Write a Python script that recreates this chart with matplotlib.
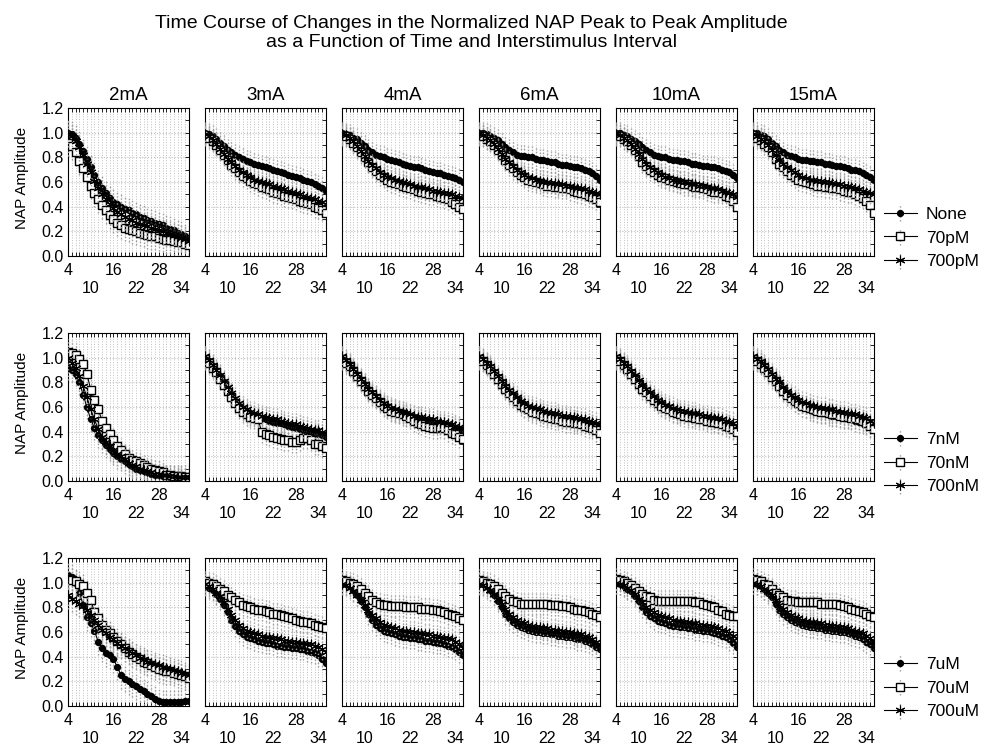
import numpy as np
import matplotlib
matplotlib.use("Agg")
import matplotlib.pyplot as plt
from matplotlib.ticker import MultipleLocator, FixedLocator, NullFormatter

plt.rcParams['font.family'] = ['Liberation Sans', 'DejaVu Sans']

TITLE = ("Time Course of Changes in the Normalized NAP Peak to Peak Amplitude\n"
         "as a Function of Time and Interstimulus Interval")
CURRENTS = ["2mA", "3mA", "4mA", "6mA", "10mA", "15mA"]
X_START = 4
X_TICKS = [4, 10, 16, 22, 28, 34]
X_TICK_LABELS = ["4", "\n10", "16", "\n22", "28", "\n34"]
Y_TICKS = [0.0, 0.2, 0.4, 0.6, 0.8, 1.0, 1.2]

# ---- row 1: None / 70pM / 700pM ----
LABELS_R1 = ["None", "70pM", "700pM"]
NONE = [
    [1.00, 0.99, 0.96, 0.91, 0.85, 0.79, 0.72, 0.66, 0.60, 0.55, 0.51, 0.47, 0.44, 0.42, 0.40, 0.38, 0.37, 0.35, 0.34, 0.32, 0.31, 0.29, 0.28, 0.27, 0.26, 0.25, 0.23, 0.22, 0.21, 0.19, 0.18, 0.16, 0.15],
    [1.00, 0.99, 0.97, 0.95, 0.92, 0.89, 0.86, 0.84, 0.82, 0.80, 0.79, 0.77, 0.76, 0.75, 0.74, 0.73, 0.72, 0.71, 0.70, 0.69, 0.68, 0.67, 0.66, 0.65, 0.64, 0.63, 0.62, 0.61, 0.60, 0.58, 0.57, 0.55, 0.53],
    [1.00, 0.99, 0.98, 0.96, 0.95, 0.92, 0.89, 0.86, 0.84, 0.82, 0.81, 0.80, 0.79, 0.78, 0.77, 0.76, 0.75, 0.74, 0.73, 0.72, 0.72, 0.71, 0.70, 0.69, 0.68, 0.67, 0.67, 0.66, 0.65, 0.64, 0.63, 0.62, 0.60],
    [1.00, 1.00, 0.99, 0.97, 0.96, 0.94, 0.91, 0.88, 0.86, 0.84, 0.82, 0.81, 0.81, 0.80, 0.80, 0.79, 0.78, 0.78, 0.77, 0.76, 0.76, 0.75, 0.74, 0.74, 0.73, 0.72, 0.72, 0.71, 0.70, 0.69, 0.67, 0.65, 0.62],
    [1.00, 1.00, 0.98, 0.97, 0.95, 0.93, 0.91, 0.88, 0.86, 0.84, 0.82, 0.81, 0.80, 0.80, 0.79, 0.78, 0.78, 0.77, 0.77, 0.76, 0.75, 0.75, 0.74, 0.73, 0.73, 0.72, 0.72, 0.71, 0.70, 0.69, 0.68, 0.66, 0.63],
    [1.00, 1.00, 0.98, 0.97, 0.95, 0.92, 0.89, 0.86, 0.84, 0.82, 0.81, 0.80, 0.79, 0.78, 0.78, 0.77, 0.77, 0.76, 0.76, 0.75, 0.75, 0.74, 0.73, 0.73, 0.72, 0.71, 0.70, 0.70, 0.69, 0.67, 0.66, 0.64, 0.62],
]
PM70 = [
    [0.92, 0.89, 0.84, 0.77, 0.71, 0.64, 0.57, 0.51, 0.46, 0.41, 0.37, 0.33, 0.30, 0.27, 0.25, 0.23, 0.22, 0.21, 0.20, 0.19, 0.18, 0.17, 0.16, 0.16, 0.15, 0.14, 0.13, 0.13, 0.12, 0.11, 0.11, 0.10, 0.09],
    [0.98, 0.96, 0.93, 0.90, 0.86, 0.82, 0.78, 0.74, 0.71, 0.68, 0.65, 0.63, 0.61, 0.59, 0.58, 0.56, 0.55, 0.54, 0.52, 0.51, 0.50, 0.49, 0.48, 0.47, 0.46, 0.45, 0.44, 0.43, 0.42, 0.40, 0.39, 0.37, 0.35],
    [0.98, 0.97, 0.95, 0.92, 0.88, 0.84, 0.80, 0.76, 0.72, 0.69, 0.66, 0.64, 0.62, 0.60, 0.59, 0.58, 0.57, 0.56, 0.55, 0.54, 0.53, 0.52, 0.51, 0.50, 0.50, 0.49, 0.48, 0.47, 0.46, 0.44, 0.42, 0.40, 0.38],
    [0.98, 0.97, 0.95, 0.93, 0.90, 0.86, 0.82, 0.78, 0.74, 0.71, 0.68, 0.66, 0.64, 0.62, 0.61, 0.60, 0.59, 0.58, 0.57, 0.57, 0.56, 0.56, 0.55, 0.55, 0.54, 0.53, 0.52, 0.51, 0.50, 0.49, 0.48, 0.46, 0.44],
    [0.98, 0.97, 0.95, 0.93, 0.90, 0.86, 0.81, 0.76, 0.73, 0.70, 0.68, 0.66, 0.64, 0.63, 0.62, 0.61, 0.60, 0.59, 0.58, 0.58, 0.57, 0.56, 0.56, 0.55, 0.54, 0.53, 0.52, 0.52, 0.51, 0.49, 0.48, 0.45, 0.40],
    [0.98, 0.96, 0.94, 0.91, 0.88, 0.84, 0.79, 0.75, 0.72, 0.69, 0.66, 0.64, 0.62, 0.61, 0.60, 0.59, 0.58, 0.57, 0.57, 0.56, 0.56, 0.55, 0.55, 0.54, 0.53, 0.52, 0.52, 0.50, 0.49, 0.47, 0.45, 0.41, 0.35],
]
PM700 = [
    [0.99, 0.97, 0.93, 0.88, 0.82, 0.75, 0.68, 0.61, 0.55, 0.50, 0.46, 0.42, 0.39, 0.36, 0.34, 0.32, 0.30, 0.29, 0.27, 0.26, 0.25, 0.24, 0.23, 0.22, 0.21, 0.20, 0.19, 0.18, 0.17, 0.16, 0.15, 0.14, 0.12],
    [0.99, 0.97, 0.94, 0.91, 0.87, 0.83, 0.79, 0.76, 0.73, 0.70, 0.68, 0.66, 0.64, 0.62, 0.61, 0.60, 0.59, 0.58, 0.57, 0.56, 0.55, 0.54, 0.53, 0.52, 0.51, 0.50, 0.49, 0.48, 0.47, 0.46, 0.45, 0.44, 0.42],
    [0.99, 0.98, 0.96, 0.93, 0.89, 0.85, 0.81, 0.77, 0.74, 0.71, 0.68, 0.66, 0.64, 0.63, 0.62, 0.61, 0.60, 0.59, 0.58, 0.57, 0.56, 0.56, 0.55, 0.54, 0.53, 0.53, 0.52, 0.51, 0.51, 0.50, 0.49, 0.48, 0.47],
    [0.99, 0.98, 0.96, 0.94, 0.91, 0.87, 0.83, 0.79, 0.76, 0.73, 0.70, 0.68, 0.66, 0.64, 0.63, 0.62, 0.61, 0.60, 0.60, 0.59, 0.59, 0.58, 0.58, 0.57, 0.57, 0.56, 0.55, 0.55, 0.54, 0.53, 0.52, 0.51, 0.50],
    [0.99, 0.98, 0.96, 0.94, 0.91, 0.87, 0.83, 0.79, 0.75, 0.72, 0.70, 0.68, 0.66, 0.64, 0.63, 0.62, 0.61, 0.60, 0.60, 0.59, 0.58, 0.58, 0.57, 0.57, 0.56, 0.55, 0.55, 0.54, 0.53, 0.52, 0.51, 0.50, 0.48],
    [0.99, 0.97, 0.95, 0.93, 0.90, 0.86, 0.82, 0.78, 0.75, 0.72, 0.70, 0.68, 0.66, 0.64, 0.63, 0.62, 0.62, 0.61, 0.61, 0.60, 0.60, 0.59, 0.58, 0.58, 0.57, 0.57, 0.56, 0.55, 0.54, 0.53, 0.52, 0.51, 0.50],
]
ERR_R1 = [0.11, 0.09, 0.09, 0.09, 0.09, 0.09]

# ---- row 2: 7nM / 70nM / 700nM ----
LABELS_R2 = ["7nM", "70nM", "700nM"]
NM7 = [
    [0.92, 0.90, 0.87, 0.80, 0.70, 0.60, 0.50, 0.43, 0.37, 0.33, 0.29, 0.26, 0.23, 0.20, 0.18, 0.16, 0.14, 0.12, 0.10, 0.09, 0.08, 0.07, 0.06, 0.05, 0.05, 0.04, 0.04, 0.03, 0.03, 0.03, 0.02, 0.02, 0.02],
    [1.00, 0.97, 0.93, 0.89, 0.85, 0.80, 0.75, 0.70, 0.65, 0.61, 0.58, 0.56, 0.54, 0.53, 0.52, 0.51, 0.50, 0.49, 0.48, 0.47, 0.47, 0.46, 0.45, 0.44, 0.43, 0.42, 0.41, 0.41, 0.40, 0.39, 0.38, 0.37, 0.36],
    [1.00, 0.97, 0.94, 0.90, 0.86, 0.82, 0.78, 0.74, 0.71, 0.68, 0.65, 0.62, 0.60, 0.58, 0.57, 0.56, 0.55, 0.54, 0.53, 0.52, 0.51, 0.50, 0.49, 0.49, 0.48, 0.47, 0.46, 0.46, 0.45, 0.44, 0.43, 0.42, 0.40],
    [1.00, 0.98, 0.95, 0.92, 0.88, 0.84, 0.80, 0.76, 0.72, 0.69, 0.66, 0.63, 0.61, 0.59, 0.58, 0.57, 0.56, 0.55, 0.54, 0.53, 0.53, 0.52, 0.51, 0.51, 0.50, 0.49, 0.49, 0.48, 0.47, 0.46, 0.45, 0.44, 0.42],
    [1.00, 0.98, 0.95, 0.92, 0.88, 0.84, 0.80, 0.77, 0.73, 0.70, 0.67, 0.64, 0.62, 0.60, 0.59, 0.57, 0.56, 0.55, 0.55, 0.54, 0.53, 0.53, 0.52, 0.51, 0.50, 0.50, 0.49, 0.48, 0.47, 0.46, 0.45, 0.43, 0.40],
    [1.00, 0.98, 0.96, 0.93, 0.89, 0.85, 0.82, 0.78, 0.74, 0.71, 0.68, 0.65, 0.63, 0.61, 0.60, 0.58, 0.57, 0.56, 0.55, 0.55, 0.54, 0.53, 0.53, 0.52, 0.51, 0.51, 0.50, 0.49, 0.48, 0.47, 0.46, 0.44, 0.41],
]
NM70 = [
    [1.05, 1.04, 1.02, 0.99, 0.95, 0.87, 0.74, 0.66, 0.58, 0.49, 0.43, 0.38, 0.33, 0.28, 0.25, 0.22, 0.19, 0.17, 0.16, 0.15, 0.13, 0.11, 0.10, 0.09, 0.08, 0.07, 0.05, 0.05, 0.04, 0.04, 0.04, 0.03, 0.03],
    [0.99, 0.96, 0.92, 0.88, 0.83, 0.78, 0.73, 0.68, 0.63, 0.59, 0.56, 0.54, 0.52, 0.51, 0.50, 0.40, 0.38, 0.37, 0.36, 0.35, 0.34, 0.33, 0.33, 0.32, 0.32, 0.33, 0.35, 0.35, 0.33, 0.30, 0.30, 0.28, 0.27],
    [0.99, 0.96, 0.93, 0.89, 0.85, 0.81, 0.77, 0.73, 0.70, 0.67, 0.64, 0.61, 0.59, 0.57, 0.56, 0.55, 0.54, 0.53, 0.51, 0.49, 0.47, 0.46, 0.45, 0.44, 0.43, 0.43, 0.44, 0.43, 0.41, 0.39, 0.38, 0.36, 0.34],
    [0.99, 0.97, 0.94, 0.91, 0.87, 0.83, 0.79, 0.75, 0.71, 0.68, 0.65, 0.62, 0.60, 0.58, 0.56, 0.55, 0.54, 0.53, 0.52, 0.51, 0.50, 0.50, 0.49, 0.48, 0.48, 0.47, 0.47, 0.46, 0.45, 0.44, 0.43, 0.41, 0.39],
    [0.99, 0.97, 0.94, 0.91, 0.87, 0.83, 0.79, 0.75, 0.72, 0.69, 0.66, 0.63, 0.61, 0.59, 0.58, 0.56, 0.55, 0.54, 0.53, 0.52, 0.52, 0.51, 0.50, 0.50, 0.49, 0.48, 0.48, 0.47, 0.46, 0.45, 0.44, 0.42, 0.40],
    [0.99, 0.97, 0.95, 0.92, 0.88, 0.84, 0.81, 0.77, 0.73, 0.70, 0.67, 0.65, 0.63, 0.61, 0.60, 0.59, 0.58, 0.57, 0.56, 0.56, 0.55, 0.54, 0.54, 0.53, 0.52, 0.52, 0.51, 0.51, 0.50, 0.49, 0.47, 0.45, 0.42],
]
NM700 = [
    [1.00, 0.96, 0.92, 0.85, 0.77, 0.68, 0.58, 0.50, 0.42, 0.36, 0.32, 0.28, 0.25, 0.22, 0.20, 0.18, 0.15, 0.13, 0.12, 0.10, 0.09, 0.08, 0.07, 0.06, 0.06, 0.05, 0.05, 0.04, 0.04, 0.03, 0.03, 0.03, 0.03],
    [1.01, 0.98, 0.94, 0.90, 0.86, 0.81, 0.76, 0.71, 0.67, 0.63, 0.60, 0.58, 0.56, 0.55, 0.54, 0.53, 0.52, 0.51, 0.50, 0.50, 0.49, 0.48, 0.47, 0.46, 0.46, 0.45, 0.44, 0.43, 0.42, 0.41, 0.41, 0.40, 0.39],
    [1.01, 0.98, 0.95, 0.91, 0.87, 0.83, 0.79, 0.75, 0.72, 0.69, 0.66, 0.63, 0.61, 0.59, 0.58, 0.57, 0.56, 0.55, 0.54, 0.53, 0.52, 0.52, 0.51, 0.50, 0.50, 0.49, 0.48, 0.48, 0.47, 0.46, 0.45, 0.44, 0.43],
    [1.01, 0.99, 0.96, 0.93, 0.89, 0.85, 0.81, 0.77, 0.74, 0.71, 0.68, 0.65, 0.63, 0.61, 0.60, 0.59, 0.58, 0.57, 0.56, 0.55, 0.55, 0.54, 0.53, 0.53, 0.52, 0.52, 0.51, 0.50, 0.50, 0.49, 0.48, 0.47, 0.46],
    [1.01, 0.99, 0.96, 0.93, 0.89, 0.86, 0.82, 0.78, 0.75, 0.72, 0.69, 0.66, 0.64, 0.62, 0.61, 0.59, 0.58, 0.57, 0.57, 0.56, 0.55, 0.55, 0.54, 0.53, 0.53, 0.52, 0.51, 0.51, 0.50, 0.49, 0.48, 0.47, 0.45],
    [1.01, 0.99, 0.97, 0.94, 0.91, 0.87, 0.83, 0.80, 0.76, 0.73, 0.70, 0.68, 0.66, 0.64, 0.63, 0.62, 0.61, 0.60, 0.59, 0.59, 0.58, 0.58, 0.57, 0.56, 0.56, 0.55, 0.54, 0.54, 0.53, 0.52, 0.51, 0.49, 0.47],
]
ERR_R2 = [0.10, 0.09, 0.09, 0.09, 0.09, 0.09]

# ---- row 3: 7uM / 70uM / 700uM ----
LABELS_R3 = ["7uM", "70uM", "700uM"]
UM7 = [
    [1.06, 1.05, 1.00, 0.92, 0.82, 0.72, 0.67, 0.61, 0.52, 0.47, 0.43, 0.41, 0.38, 0.32, 0.25, 0.22, 0.20, 0.18, 0.16, 0.14, 0.12, 0.10, 0.08, 0.06, 0.04, 0.03, 0.03, 0.03, 0.03, 0.03, 0.03, 0.04, 0.04],
    [0.98, 0.96, 0.94, 0.91, 0.87, 0.82, 0.76, 0.70, 0.65, 0.61, 0.58, 0.56, 0.55, 0.54, 0.53, 0.52, 0.51, 0.51, 0.50, 0.49, 0.49, 0.48, 0.48, 0.47, 0.47, 0.46, 0.46, 0.45, 0.44, 0.43, 0.41, 0.38, 0.35],
    [1.00, 0.99, 0.97, 0.94, 0.90, 0.85, 0.80, 0.75, 0.70, 0.66, 0.63, 0.61, 0.60, 0.59, 0.58, 0.57, 0.56, 0.56, 0.55, 0.55, 0.54, 0.54, 0.53, 0.53, 0.52, 0.51, 0.51, 0.50, 0.49, 0.48, 0.46, 0.44, 0.41],
    [1.00, 0.99, 0.97, 0.94, 0.90, 0.85, 0.80, 0.75, 0.71, 0.68, 0.66, 0.64, 0.63, 0.62, 0.61, 0.60, 0.60, 0.59, 0.59, 0.58, 0.58, 0.57, 0.57, 0.56, 0.56, 0.55, 0.54, 0.54, 0.53, 0.52, 0.50, 0.48, 0.46],
    [1.00, 0.99, 0.97, 0.95, 0.93, 0.89, 0.85, 0.80, 0.76, 0.73, 0.71, 0.69, 0.68, 0.67, 0.66, 0.65, 0.65, 0.64, 0.64, 0.63, 0.63, 0.62, 0.62, 0.61, 0.61, 0.60, 0.59, 0.58, 0.57, 0.56, 0.54, 0.51, 0.48],
    [1.00, 0.99, 0.97, 0.95, 0.92, 0.88, 0.83, 0.78, 0.75, 0.72, 0.70, 0.68, 0.67, 0.66, 0.65, 0.64, 0.64, 0.63, 0.63, 0.62, 0.62, 0.61, 0.61, 0.60, 0.60, 0.59, 0.58, 0.57, 0.56, 0.54, 0.52, 0.50, 0.47],
]
UM70 = [
    [1.03, 1.02, 1.01, 0.99, 0.97, 0.92, 0.86, 0.76, 0.71, 0.66, 0.62, 0.59, 0.56, 0.53, 0.50, 0.47, 0.44, 0.42, 0.40, 0.38, 0.36, 0.35, 0.33, 0.32, 0.30, 0.29, 0.28, 0.28, 0.27, 0.26, 0.25, 0.24, 0.23],
    [1.01, 1.00, 0.99, 0.97, 0.95, 0.93, 0.90, 0.88, 0.86, 0.84, 0.82, 0.81, 0.80, 0.79, 0.78, 0.78, 0.77, 0.76, 0.75, 0.75, 0.74, 0.73, 0.72, 0.71, 0.70, 0.69, 0.68, 0.68, 0.67, 0.66, 0.65, 0.64, 0.63],
    [1.02, 1.01, 1.00, 0.99, 0.97, 0.95, 0.92, 0.89, 0.86, 0.84, 0.83, 0.82, 0.82, 0.81, 0.81, 0.81, 0.81, 0.80, 0.80, 0.80, 0.80, 0.79, 0.79, 0.79, 0.78, 0.78, 0.77, 0.76, 0.75, 0.74, 0.73, 0.71, 0.70],
    [1.02, 1.01, 1.00, 0.99, 0.97, 0.95, 0.92, 0.89, 0.87, 0.85, 0.84, 0.83, 0.83, 0.83, 0.83, 0.83, 0.83, 0.83, 0.83, 0.82, 0.82, 0.82, 0.81, 0.81, 0.80, 0.79, 0.78, 0.78, 0.77, 0.76, 0.75, 0.74, 0.72],
    [1.03, 1.02, 1.01, 1.00, 0.98, 0.96, 0.93, 0.91, 0.89, 0.88, 0.86, 0.85, 0.85, 0.85, 0.85, 0.85, 0.85, 0.85, 0.85, 0.85, 0.85, 0.84, 0.84, 0.83, 0.82, 0.81, 0.80, 0.78, 0.77, 0.75, 0.74, 0.73, 0.73],
    [1.03, 1.02, 1.01, 0.99, 0.98, 0.95, 0.92, 0.90, 0.88, 0.86, 0.85, 0.85, 0.84, 0.84, 0.84, 0.84, 0.84, 0.84, 0.83, 0.83, 0.83, 0.83, 0.83, 0.82, 0.81, 0.80, 0.79, 0.78, 0.77, 0.76, 0.75, 0.73, 0.72],
]
UM700 = [
    [0.90, 0.87, 0.85, 0.83, 0.81, 0.78, 0.74, 0.70, 0.66, 0.62, 0.59, 0.56, 0.54, 0.51, 0.49, 0.47, 0.45, 0.43, 0.41, 0.39, 0.38, 0.36, 0.35, 0.34, 0.33, 0.32, 0.31, 0.30, 0.29, 0.28, 0.27, 0.26, 0.25],
    [0.99, 0.97, 0.95, 0.92, 0.89, 0.84, 0.79, 0.74, 0.70, 0.66, 0.63, 0.61, 0.60, 0.59, 0.58, 0.57, 0.56, 0.56, 0.55, 0.55, 0.54, 0.53, 0.53, 0.52, 0.52, 0.51, 0.51, 0.50, 0.50, 0.49, 0.48, 0.46, 0.44],
    [0.99, 0.98, 0.96, 0.93, 0.90, 0.86, 0.82, 0.78, 0.74, 0.71, 0.68, 0.66, 0.65, 0.64, 0.63, 0.62, 0.61, 0.61, 0.60, 0.60, 0.59, 0.59, 0.58, 0.58, 0.57, 0.57, 0.56, 0.55, 0.55, 0.54, 0.52, 0.50, 0.47],
    [0.99, 0.98, 0.96, 0.94, 0.91, 0.87, 0.83, 0.79, 0.75, 0.72, 0.70, 0.68, 0.67, 0.66, 0.65, 0.64, 0.64, 0.63, 0.63, 0.62, 0.62, 0.61, 0.61, 0.60, 0.60, 0.59, 0.58, 0.58, 0.57, 0.56, 0.54, 0.52, 0.50],
    [1.00, 0.99, 0.98, 0.96, 0.94, 0.91, 0.87, 0.84, 0.80, 0.78, 0.76, 0.74, 0.73, 0.72, 0.71, 0.70, 0.69, 0.69, 0.68, 0.68, 0.67, 0.67, 0.66, 0.66, 0.65, 0.65, 0.64, 0.63, 0.62, 0.61, 0.59, 0.57, 0.55],
    [1.00, 0.99, 0.97, 0.95, 0.93, 0.90, 0.86, 0.82, 0.79, 0.76, 0.74, 0.72, 0.71, 0.70, 0.69, 0.68, 0.68, 0.67, 0.67, 0.66, 0.66, 0.65, 0.65, 0.64, 0.64, 0.63, 0.62, 0.61, 0.60, 0.59, 0.57, 0.55, 0.52],
]
ERR_R3 = [0.11, 0.09, 0.09, 0.09, 0.09, 0.09]

ROWS = [
    (LABELS_R1, [NONE, PM70, PM700], ERR_R1),
    (LABELS_R2, [NM7, NM70, NM700], ERR_R2),
    (LABELS_R3, [UM7, UM70, UM700], ERR_R3),
]

# marker styles: filled circle, open square, asterisk
STYLES = [
    dict(marker="o", markersize=4.2, markerfacecolor="black", markeredgecolor="black"),
    dict(marker="s", markersize=5.6, markerfacecolor="white", markeredgecolor="black", markeredgewidth=1.0),
    dict(marker=(6, 2, 0), markersize=7, markerfacecolor="black", markeredgecolor="black", markeredgewidth=0.8),
]
DRAW_ORDER = [1, 2, 0]

W, H = 992, 747
fig = plt.figure(figsize=(W / 100, H / 100), dpi=100)

PANEL_LEFT = [68, 205, 342, 479, 616, 753]
PANEL_TOP = [108, 333, 558]
PW, PH = 121, 148

fig.text(0.5 * (68 + 874) / W, 1 - 33 / H, TITLE, ha="center", va="center",
         fontsize=14, linespacing=1.1)

for r, (labels, series, errs) in enumerate(ROWS):
    top = PANEL_TOP[r]
    for c in range(6):
        ax = fig.add_axes([PANEL_LEFT[c] / W, 1 - (top + PH) / H, PW / W, PH / H])
        ax.set_xlim(4, 36)
        ax.set_ylim(0, 1.2)
        ax.xaxis.set_major_locator(FixedLocator(X_TICKS))
        ax.xaxis.set_minor_locator(MultipleLocator(1))
        ax.yaxis.set_major_locator(FixedLocator(Y_TICKS))
        ax.yaxis.set_minor_locator(MultipleLocator(0.1))
        ax.grid(True, which="both", axis="x", color="#c0c0c0", linestyle=":", linewidth=0.7)
        ax.grid(True, which="major", axis="y", color="#c0c0c0", linestyle=":", linewidth=0.8)
        ax.set_axisbelow(True)
        ax.tick_params(axis="x", which="major", direction="in", top=True, bottom=True,
                       length=3, width=0.6, labelsize=11.5, pad=5)
        ax.tick_params(axis="x", which="minor", direction="in", top=True, bottom=True,
                       length=3, width=0.6)
        ax.tick_params(axis="y", which="both", direction="in", left=False, right=True,
                       length=3, width=0.6, labelsize=11.5, pad=3)
        ax.set_xticklabels(X_TICK_LABELS, linespacing=1.25)
        if c == 0:
            ax.set_yticklabels([f"{v:.1f}" for v in Y_TICKS])
        else:
            ax.yaxis.set_major_formatter(NullFormatter())
        for sp in ax.spines.values():
            sp.set_linewidth(0.8)
        if r == 0:
            ax.set_title(CURRENTS[c], fontsize=13.5, pad=6)

        handles = [None] * 3
        for k in DRAW_ORDER:
            vals = np.asarray(series[k][c])
            xs = np.arange(X_START, X_START + len(vals))
            eb = ax.errorbar(xs, vals, yerr=errs[c], color="black", linewidth=0.8,
                             ecolor="#9a9a9a", elinewidth=1.0, capsize=0,
                             clip_on=True, zorder=3 + k, **STYLES[k])
            eb[2][0].set_linestyle((0, (1, 1.5)))
            handles[k] = eb

    fig.text(22 / W, 1 - (top + PH / 2 - 4) / H, "NAP Amplitude", rotation=90,
             ha="center", va="center", fontsize=11)
    fig.legend(handles, labels, loc="center left",
               bbox_to_anchor=(884 / W, 1 - (top + 130) / H),
               frameon=False, fontsize=12.5, handlelength=1.9,
               handletextpad=0.5, labelspacing=0.5, borderpad=0,
               borderaxespad=0)

fig.savefig("out.png", dpi=100)
